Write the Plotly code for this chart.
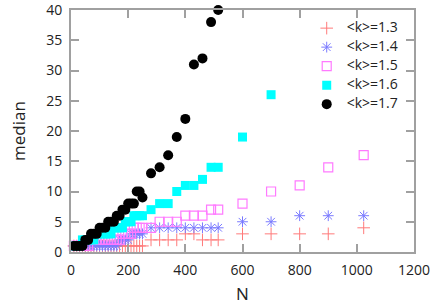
import plotly.graph_objects as go

N_low = [10, 20, 30, 40, 50, 60, 70, 80, 90, 100, 110, 120, 130, 140, 150, 160, 170, 180, 190, 200,
         210, 220, 230, 240, 250, 280, 310, 340, 370, 400, 430, 460, 490, 515]
N_high = [600, 700, 800, 900, 1024]

k13 = [1] * 25 + [2, 2, 2, 2, 3, 3, 2, 2, 2] + [3, 3, 3, 3, 4]
k14 = [1] * 16 + [2, 2, 2, 2] + [3, 3, 3, 3, 3] + [4] * 9 + [5, 5, 6, 6, 6]
k15 = [1] * 6 + [2] * 11 + [3, 3, 3, 3] + [4, 4, 4, 4, 4] + [5, 5, 5, 6, 6, 6, 7, 7] + [8, 10, 11, 14, 16]
k16 = [1, 1, 1, 2, 2, 2, 2, 2, 3, 3, 3, 3, 3, 3, 4, 4, 4, 4, 5, 5, 5, 6, 6, 6, 6,
       7, 8, 8, 10, 11, 11, 12, 14, 14] + [19, 26]
k17 = [1, 1, 1, 1, 2, 2, 3, 3, 3, 4, 4, 4, 5, 5, 5, 6, 6, 7, 7, 8, 8, 8, 10, 10, 9,
       13, 14, 16, 19, 22, 31, 32, 38, 40]

labels = ["&lt;k&gt;=1.3", "&lt;k&gt;=1.4", "&lt;k&gt;=1.5", "&lt;k&gt;=1.6", "&lt;k&gt;=1.7"]

N_all = N_low + N_high

series = [
    (labels[0], N_all, k13, dict(symbol="cross-thin-open", color="#ff7a7a", size=9, line=dict(width=1, color="#ff7a7a"))),
    (labels[1], N_all, k14, dict(symbol="asterisk-open", color="#7a7aff", size=9, line=dict(width=1, color="#7a7aff"))),
    (labels[2], N_all, k15, dict(symbol="square-open", color="#ff7aff", size=9, line=dict(width=1.2, color="#ff7aff"))),
    (labels[3], N_low + N_high[:2], k16, dict(symbol="square", color="#00ffff", size=9)),
    (labels[4], N_low, k17, dict(symbol="circle", color="#000000", size=10)),
]

fig = go.Figure()
for name, x, y, m in series:
    fig.add_trace(go.Scatter(x=x, y=y, mode="markers",
                             name='<span style="font-size:14px">' + name + "</span>",
                             marker=m, cliponaxis=False))

axis_common = dict(
    showline=True, linecolor="#a0a0a0", linewidth=2, mirror="allticks",
    ticks="inside", ticklen=8, tickcolor="#a0a0a0", tickwidth=1.5,
    showgrid=False, zeroline=False, automargin=False, ticklabeloverflow="allow",
    tickfont=dict(family="Open Sans", size=14, color="#222222"),
)

fig.update_layout(
    width=436, height=308,
    margin=dict(l=71, r=22, t=10, b=56),
    paper_bgcolor="white", plot_bgcolor="white",
    font=dict(family="Open Sans", size=14, color="#222222"),
    xaxis=dict(range=[0, 1200], tickvals=[0, 200, 400, 600, 800, 1000, 1200],
               title=dict(text="N", standoff=10), ticklabelstandoff=4, **axis_common),
    yaxis=dict(range=[0, 40], tickvals=[0, 5, 10, 15, 20, 25, 30, 35, 40],
               title=dict(text="median", standoff=16), ticklabelstandoff=4, **axis_common),
    legend=dict(x=0.97, y=0.985, xanchor="right", yanchor="top", bgcolor="rgba(0,0,0,0)",
                font=dict(size=10), tracegroupgap=0, itemwidth=30),
    showlegend=True,
)

fig.write_html("out.html", config={"displayModeBar": False},
               post_script="document.body.style.margin='0';document.body.style.overflow='hidden';")
